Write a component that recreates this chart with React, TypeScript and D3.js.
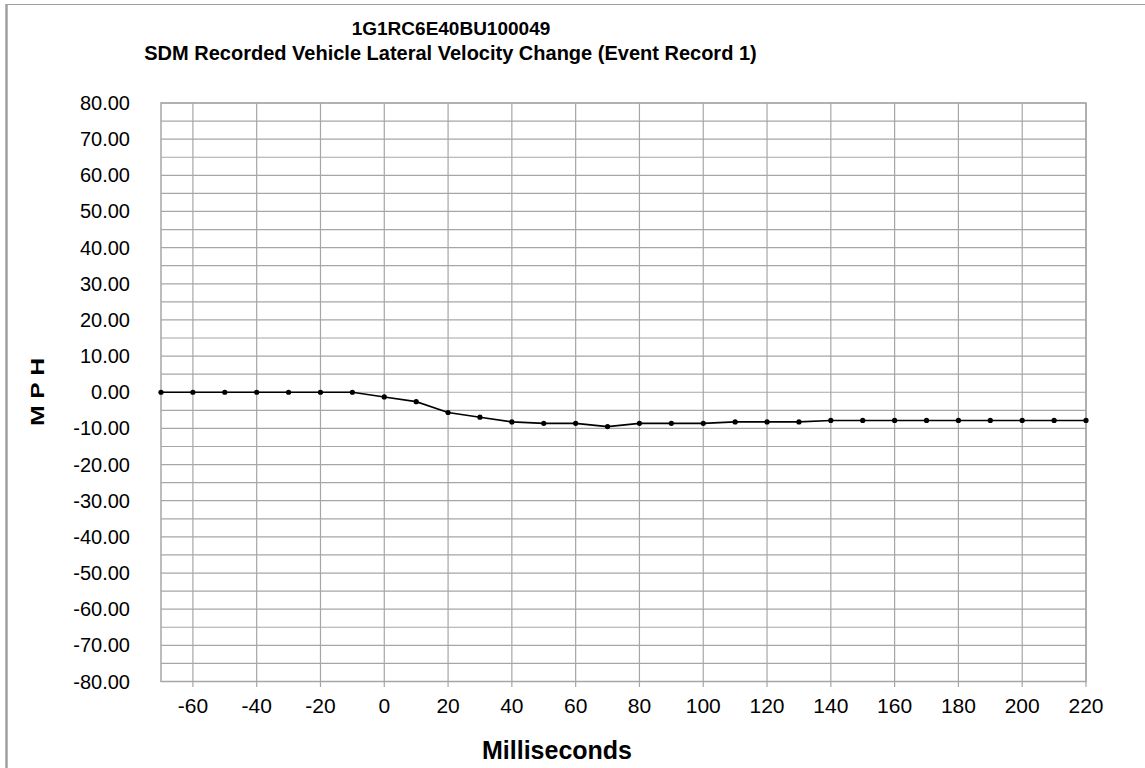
import * as d3 from "d3";

const times = [-70, -60, -50, -40, -30, -20, -10, 0, 10, 20, 30, 40, 50, 60, 70, 80, 90, 100, 110, 120, 130, 140, 150, 160, 170, 180, 190, 200, 210, 220];
const lateralMph = [0, 0, 0, 0, 0, 0, 0, -1.3, -2.6, -5.6, -6.9, -8.2, -8.6, -8.6, -9.5, -8.6, -8.6, -8.6, -8.2, -8.2, -8.2, -7.8, -7.8, -7.8, -7.8, -7.8, -7.8, -7.8, -7.8, -7.8];
const xTicks = [-60, -40, -20, 0, 20, 40, 60, 80, 100, 120, 140, 160, 180, 200, 220];
const yTicks = [80, 70, 60, 50, 40, 30, 20, 10, 0, -10, -20, -30, -40, -50, -60, -70, -80];
const yGrid = [75, 65, 55, 45, 35, 25, 15, 5, -5, -15, -25, -35, -45, -55, -65, -75];

const titleLines = ["1G1RC6E40BU100049", "SDM Recorded Vehicle Lateral Velocity Change (Event Record 1)"];

export default function App() {
  const W = 1145;
  const H = 768;
  const left = 161, right = 1086, top = 103, bottom = 681.5;
  const font = "'Liberation Sans', Arial, sans-serif";
  const grid = "#a6a6a6";

  const x = d3.scaleLinear().domain([-70, 220]).range([left, right]);
  const y = d3.scaleLinear().domain([-80, 80]).range([bottom, top]);

  const line = d3
    .line<number>()
    .x((_, i) => x(times[i]))
    .y((d) => y(d));

  return (
    <svg
      width={W}
      height={H}
      style={{ position: "absolute", left: 0, top: 0, background: "#fff" }}
      fontFamily={font}
    >
      {/* outer frame */}
      <line x1={6} x2={W} y1={4.5} y2={4.5} stroke="#a0a0a0" strokeWidth={1} />
      <line x1={6.5} x2={6.5} y1={4} y2={H} stroke="#a0a0a0" strokeWidth={2.5} />

      <text x={451} y={35} textAnchor="middle" fontSize={19} fontWeight="bold">
        {titleLines[0]}
      </text>
      <text x={450.5} y={59.5} textAnchor="middle" fontSize={20} fontWeight="bold">
        {titleLines[1]}
      </text>

      {/* horizontal grid */}
      {yGrid.concat(yTicks).map((v) => (
        <line key={"h" + v} x1={left} x2={right} y1={y(v)} y2={y(v)} stroke={grid} strokeWidth={1.2} />
      ))}
      {/* vertical grid + ticks */}
      {xTicks.map((v) => (
        <line key={"v" + v} x1={x(v)} x2={x(v)} y1={top} y2={bottom + 5.5} stroke={grid} strokeWidth={1.2} />
      ))}
      <rect x={left} y={top} width={right - left} height={bottom - top} fill="none" stroke={grid} strokeWidth={1.5} />

      {yTicks.map((v) => (
        <text key={"yl" + v} x={130} y={y(v) + 7} textAnchor="end" fontSize={20}>
          {v.toFixed(2)}
        </text>
      ))}
      {xTicks.map((v) => (
        <text key={"xl" + v} x={x(v)} y={713} textAnchor="middle" fontSize={21}>
          {v}
        </text>
      ))}

      <path d={line(lateralMph) ?? ""} fill="none" stroke="#000" strokeWidth={1.6} />
      {lateralMph.map((d, i) => (
        <circle key={"p" + i} cx={x(times[i])} cy={y(d)} r={2.6} fill="#000" />
      ))}

      <text
        transform={`translate(44, 392) rotate(-90) scale(1.3, 1)`}
        textAnchor="middle"
        fontSize={19}
        fontWeight="bold"
      >
        M P H
      </text>
      <text x={557} y={759} textAnchor="middle" fontSize={25} fontWeight="bold">
        Milliseconds
      </text>
    </svg>
  );
}
